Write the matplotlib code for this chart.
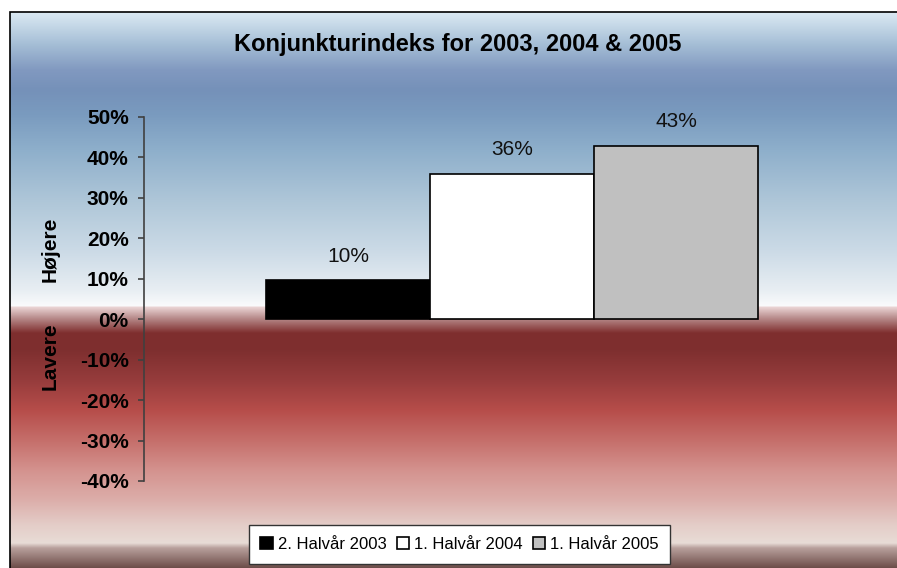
import numpy as np
import matplotlib
matplotlib.use('Agg')
import matplotlib.pyplot as plt
from matplotlib.patches import Rectangle
from matplotlib.colors import to_rgb

# data
series = ['2. Halvår 2003', '1. Halvår 2004', '1. Halvår 2005']
values = [0.096, 0.359, 0.428]
bar_colors = ['#000000', '#ffffff', '#c0c0c0']
yticks = [-0.4, -0.3, -0.2, -0.1, 0.0, 0.1, 0.2, 0.3, 0.4, 0.5]

W, H = 897, 568
plt.rcParams['font.family'] = ['Liberation Sans', 'DejaVu Sans']
fig = plt.figure(figsize=(W / 100, H / 100), dpi=100)

# background gradient (pixel row -> colour)
stops = [
    (12, '#dbe9f3'), (25, '#c6d9e8'), (45, '#a4bdd5'), (70, '#8199c0'),
    (90, '#7591b9'), (115, '#7a9bbf'), (150, '#8eafcb'), (200, '#aec6d8'),
    (250, '#cbdae6'), (290, '#e8eef3'), (306, '#fafbfc'), (307, '#ebd5d5'),
    (318, '#b88c8c'), (333, '#7f2e2e'), (350, '#7e2f2f'), (380, '#963c3c'),
    (410, '#b64d4a'), (440, '#c56e6a'), (470, '#d4928e'), (500, '#dcaeaa'),
    (525, '#e4cdc8'), (543, '#e8dcd6'), (548, '#b8a09c'), (568, '#6c4c48'),
]
ys = np.array([s[0] for s in stops], dtype=float)
cols = np.array([to_rgb(s[1]) for s in stops])
rows = np.arange(12, 568) + 0.5
grad = np.stack([np.interp(rows, ys, cols[:, i]) for i in range(3)], axis=1)
grad = grad[:, None, :]

bg = fig.add_axes([10 / W, 0, 1 - 10 / W, (H - 12) / H])
bg.imshow(grad, aspect='auto', extent=(0, 1, 0, 1), interpolation='bilinear')
bg.axis('off')

# chart frame (only top and left edges visible)
fig.patches.append(Rectangle((10 / W, -0.05), 1.1, 1.05 - 12 / H,
                             transform=fig.transFigure, fill=False,
                             edgecolor='#000000', linewidth=1.2))

ax = fig.add_axes([144 / W, 1 - 481 / H, (880 - 144) / W, (481 - 117) / H])
ax.patch.set_alpha(0)

w = 164 / 736
offsets = [-w, 0, w]
for name, v, c, off in zip(series, values, bar_colors, offsets):
    b = ax.bar(off, v, width=w, color=c, edgecolor='#000000', linewidth=1.2,
               label=name)
    ax.annotate('{:.0%}'.format(v), (off, v), xytext=(0, 13.5),
                textcoords='offset points', ha='center', va='baseline',
                fontsize=15, color='#111111')

ax.set_xlim(-0.5, 0.5)
ax.set_ylim(-0.4, 0.5)
ax.set_yticks(yticks)
ax.set_yticklabels(['{:.0%}'.format(t) for t in yticks], fontsize=15,
                   fontweight='bold')
ax.set_xticks([])
for s in ['top', 'right', 'bottom']:
    ax.spines[s].set_visible(False)
ax.spines['left'].set_color('#404040')
ax.spines['left'].set_linewidth(1.2)
ax.tick_params(axis='y', direction='out', length=4.5, width=1.2,
               color='#404040', pad=6.5)

fig.text(458 / W, 1 - 45 / H, 'Konjunkturindeks for 2003, 2004 & 2005',
         ha='center', va='center', fontsize=17, fontweight='bold')
fig.text(50 / W, 1 - 249 / H, 'Højere', rotation=90, ha='center',
         va='center', fontsize=15, fontweight='bold')
fig.text(50 / W, 1 - 356 / H, 'Lavere', rotation=90, ha='center',
         va='center', fontsize=15, fontweight='bold')

leg = ax.legend(loc='center', bbox_to_anchor=(459.5 / W, 1 - 544.5 / H),
                bbox_transform=fig.transFigure, ncol=3, fontsize=12,
                frameon=True, fancybox=False, framealpha=1,
                handlelength=0.75, handleheight=0.75, handletextpad=0.3,
                columnspacing=0.6, borderpad=0.7, borderaxespad=0)
leg.get_frame().set_edgecolor('#333333')
leg.get_frame().set_linewidth(1.0)

fig.savefig('out.png', dpi=100)
